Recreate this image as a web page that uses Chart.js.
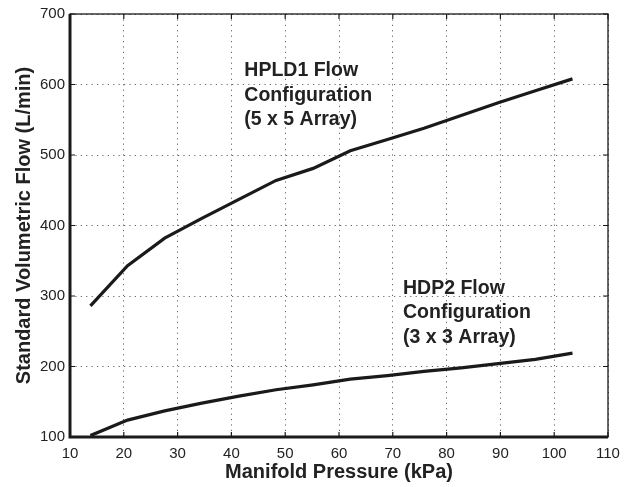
<!DOCTYPE html>
<html lang="en">
<head>
    <meta charset="UTF-8">
    <title>Flow vs Manifold Pressure</title>
    <script src="https://cdn.jsdelivr.net/npm/chart.js"></script>
    <style>
        html, body { margin: 0; padding: 0; background: #fff; }
        #wrap { width: 630px; height: 487px; }
    </style>
</head>
<body>
<div id="wrap"><canvas id="grafico"></canvas></div>
<script>
    // manifold pressure (kPa)
    var pressao = [13.8, 20.7, 27.6, 34.5, 41.4, 48.3, 55.2, 62.1, 69.0, 75.8, 82.7, 89.6, 96.5, 103.4]
    // flow (L/min)
    var fluxoHPLD1 = [286, 343, 382, 410, 437, 464, 481, 506, 522, 538, 556, 574, 591, 608]
    var fluxoHDP2 = [102, 124, 137, 148, 158, 167, 174, 182, 187, 193, 198, 204, 210, 219]

    var ticksX = [10, 20, 30, 40, 50, 60, 70, 80, 90, 100, 110]
    var ticksY = [100, 200, 300, 400, 500, 600, 700]

    // text labels, anchored in data units (left x, centre of first line y)
    var rotulos = [
        { x: 42.4, y: 619, linhas: ['HPLD1 Flow', 'Configuration', '(5 x 5 Array)'] },
        { x: 71.9, y: 311, linhas: ['HDP2 Flow', 'Configuration', '(3 x 3 Array)'] }
    ]

    function pontos(xs, ys) {
        return xs.map((x, i) => ({ x: x, y: ys[i] }))
    }

    // frame, inward ticks and text labels
    const molduraPlugin = {
        id: 'moldura',
        afterDraw(chart) {
            const ctx = chart.ctx
            const a = chart.chartArea
            const sx = chart.scales.x, sy = chart.scales.y
            ctx.save()
            ctx.strokeStyle = '#1a1a1a'
            ctx.lineWidth = 1.2
            ctx.beginPath()
            ticksX.forEach(v => {
                const px = sx.getPixelForValue(v)
                ctx.moveTo(px, a.bottom); ctx.lineTo(px, a.bottom - 5)
                ctx.moveTo(px, a.top); ctx.lineTo(px, a.top + 5)
            })
            ticksY.forEach(v => {
                const py = sy.getPixelForValue(v)
                ctx.moveTo(a.left, py); ctx.lineTo(a.left + 5, py)
                ctx.moveTo(a.right, py); ctx.lineTo(a.right - 5, py)
            })
            ctx.stroke()

            ctx.lineWidth = 1.3
            ctx.strokeRect(a.left, a.top, a.right - a.left, a.bottom - a.top)
            ctx.lineWidth = 3
            ctx.beginPath()
            ctx.moveTo(a.left, a.top); ctx.lineTo(a.left, a.bottom); ctx.lineTo(a.right, a.bottom)
            ctx.stroke()

            ctx.fillStyle = '#222'
            ctx.font = 'bold 19.5px "Liberation Sans", Arial, sans-serif'
            ctx.textAlign = 'left'
            ctx.textBaseline = 'middle'
            rotulos.forEach(r => {
                const px = sx.getPixelForValue(r.x)
                const py = sy.getPixelForValue(r.y)
                r.linhas.forEach((t, i) => ctx.fillText(t, px, py + i * 24.5))
            })
            ctx.restore()
        }
    }

    const ctx = document.getElementById('grafico').getContext('2d')
    const grafico = new Chart(ctx, {
        type: 'line',
        data: {
            datasets: [{
                label: 'HPLD1',
                data: pontos(pressao, fluxoHPLD1),
                borderColor: '#1a1a1a',
                borderWidth: 3.2,
                pointRadius: 0,
                tension: 0
            }, {
                label: 'HDP2',
                data: pontos(pressao, fluxoHDP2),
                borderColor: '#1a1a1a',
                borderWidth: 3.2,
                pointRadius: 0,
                tension: 0
            }]
        },
        options: {
            responsive: true,
            maintainAspectRatio: false,
            animation: false,
            layout: { padding: { top: 14, right: 22, left: 0, bottom: 0 } },
            plugins: {
                legend: { display: false },
                tooltip: { enabled: false }
            },
            scales: {
                x: {
                    type: 'linear',
                    min: 10,
                    max: 110,
                    afterFit: s => { s.height = 50 },
                    afterBuildTicks: s => { s.ticks = ticksX.map(v => ({ value: v })) },
                    grid: { color: '#666', lineWidth: 1, drawTicks: false },
                    border: { display: false, dash: [1.2, 4.2] },
                    ticks: {
                        color: '#222',
                        padding: 8,
                        maxRotation: 0,
                        font: { family: '"Liberation Sans", Arial, sans-serif', size: 15 }
                    },
                    title: {
                        display: true,
                        text: 'Manifold Pressure (kPa)',
                        color: '#222',
                        padding: { top: 0, bottom: 3 },
                        font: { family: '"Liberation Sans", Arial, sans-serif', size: 20, weight: 'bold' }
                    }
                },
                y: {
                    min: 100,
                    max: 700,
                    afterFit: s => { s.width = 70 },
                    afterBuildTicks: s => { s.ticks = ticksY.map(v => ({ value: v })) },
                    grid: { color: '#666', lineWidth: 1, drawTicks: false },
                    border: { display: false, dash: [1.2, 4.2] },
                    ticks: {
                        color: '#222',
                        padding: 5,
                        font: { family: '"Liberation Sans", Arial, sans-serif', size: 15 }
                    },
                    title: {
                        display: true,
                        text: 'Standard Volumetric Flow (L/min)',
                        color: '#222',
                        padding: { top: 12, bottom: 0 },
                        font: { family: '"Liberation Sans", Arial, sans-serif', size: 20, weight: 'bold' }
                    }
                }
            }
        },
        plugins: [molduraPlugin]
    })
</script>
</body>
</html>
